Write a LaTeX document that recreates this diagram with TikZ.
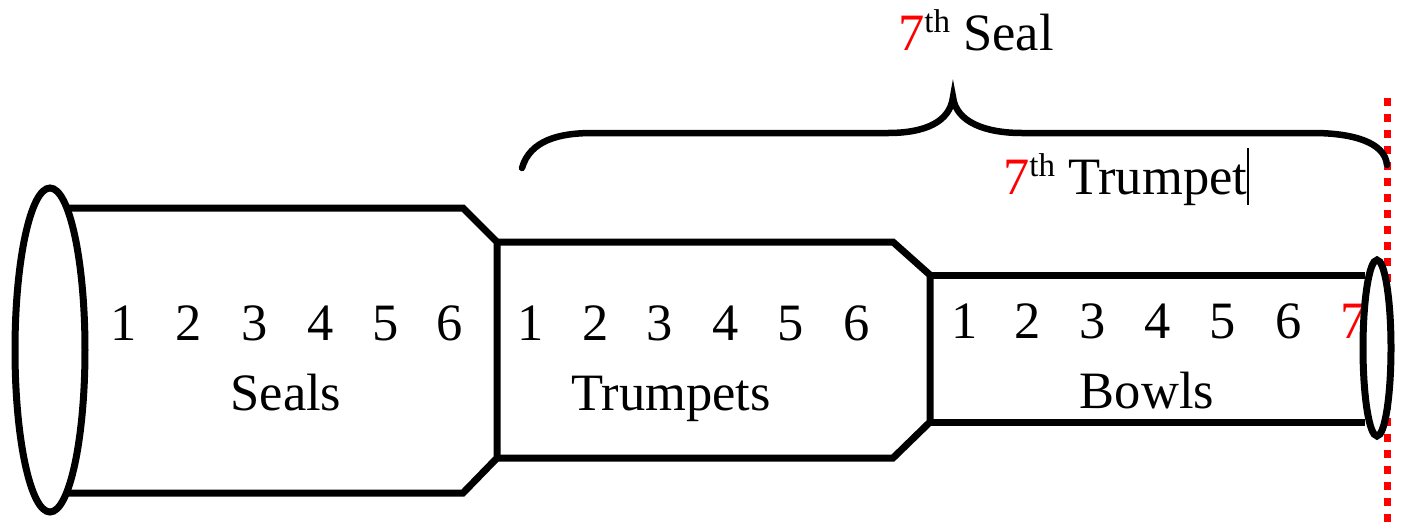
\documentclass[tikz,border=0pt]{standalone}
\usepackage{fontspec}
\setmainfont{Liberation Serif}
\begin{document}
\begin{tikzpicture}[x=1pt,y=-1pt,
  tube/.style={line width=7pt,line join=miter},
  lbl/.style={inner sep=0pt,anchor=base,font=\fontsize{52.5}{60}\selectfont}]
\useasboundingbox (0,0) rectangle (1403,528);
% red dotted line
\draw[red,line width=7pt,dash pattern=on 8pt off 8pt] (1387,98) -- (1387,528);
% brace
\draw[line width=6.5pt,line cap=round] (522,168) .. controls (530,140) and (560,133) .. (592,133) -- (888,133)
  .. controls (925,133) and (950,122) .. (953,97)
  .. controls (956,122) and (985,133) .. (1022,133) -- (1313,133)
  .. controls (1352,133) and (1385,142) .. (1387,165);
% seals tube
\draw[tube] (68,208) -- (463,208) -- (497,242) -- (497,458) -- (463,493) -- (68,493);
% trumpets tube
\draw[tube] (497,242) -- (893,242) -- (930,275) -- (930,422) -- (893,458) -- (497,458);
% bowls tube
\draw[tube] (930,275) -- (1365,275);
\draw[tube] (930,422) -- (1365,422);
% texts
\foreach \d/\x in {1/124,2/189,3/255,4/321,5/386,6/450}
  \node[lbl] (s\d) at (\x,340) {\d};
\foreach \d/\x in {1/531,2/596,3/660,4/726,5/791,6/857}
  \node[lbl] (t\d) at (\x,340) {\d};
\foreach \d/\x in {1/965,2/1028,3/1093,4/1158,5/1223,6/1289}
  \node[lbl] (b\d) at (\x,338) {\d};
\node[lbl,text=red] (b7) at (1354,338) {7};
\node[lbl] (seals) at (286,410) {Seals};
\node[lbl] (trumpets) at (671,410) {Trumpets};
\node[lbl] (bowls) at (1147,408) {Bowls};
\node[lbl,anchor=base west] (seal7) at (898,50) {\textcolor{red}{7}\raisebox{18pt}{\fontsize{33}{33}\selectfont th} Seal};
\node[lbl,anchor=base west] (trumpet7) at (1003,194) {\textcolor{red}{7}\raisebox{18pt}{\fontsize{33}{33}\selectfont th} Trumpet};
\draw[line width=1.5pt] (1248,148) -- (1248,205);
% ellipses
\draw[line width=7pt,fill=white] (50,350) ellipse [x radius=35,y radius=162];
\draw[line width=7pt,fill=white] (1377,348) ellipse [x radius=14,y radius=88];
\end{tikzpicture}
\end{document}
